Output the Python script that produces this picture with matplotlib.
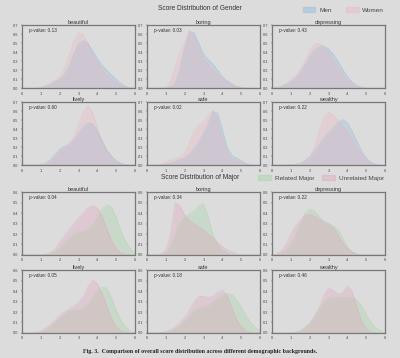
import numpy as np
import matplotlib
matplotlib.use("Agg")
import matplotlib.pyplot as plt
from matplotlib.patches import Patch

plt.rcParams["font.family"] = ["Liberation Sans", "DejaVu Sans"]

# score grid the density curves were read on (0 .. 6, step 0.25)
scores = np.arange(0, 6.01, 0.25)
categories = ["beautiful", "boring", "depressing", "lively", "safe", "wealthy"]

men = {
    "beautiful": [0,0,0,0,0.005,0.02,0.04,0.07,0.10,0.15,0.24,0.38,0.49,0.53,0.50,0.42,0.33,0.26,0.20,0.15,0.10,0.05,0.02,0.005,0],
    "boring": [0,0,0,0,0,0.01,0.05,0.22,0.45,0.63,0.62,0.50,0.38,0.32,0.27,0.20,0.13,0.08,0.05,0.02,0.01,0,0,0,0],
    "depressing": [0,0.005,0.02,0.04,0.07,0.11,0.17,0.26,0.35,0.42,0.46,0.47,0.44,0.38,0.30,0.21,0.13,0.07,0.03,0.01,0,0,0,0,0],
    "lively": [0,0,0,0,0.005,0.02,0.06,0.12,0.18,0.21,0.23,0.28,0.35,0.42,0.47,0.46,0.38,0.27,0.17,0.10,0.05,0.02,0.005,0,0],
    "safe": [0,0,0,0.005,0.01,0.02,0.04,0.06,0.08,0.12,0.18,0.26,0.35,0.46,0.60,0.58,0.40,0.20,0.11,0.08,0.05,0.02,0.005,0,0],
    "wealthy": [0,0,0,0,0.005,0.01,0.02,0.05,0.09,0.15,0.22,0.30,0.36,0.41,0.48,0.51,0.47,0.38,0.27,0.16,0.08,0.03,0.01,0,0],
}
women = {
    "beautiful": [0,0,0,0,0.01,0.03,0.06,0.09,0.13,0.22,0.37,0.53,0.62,0.60,0.50,0.38,0.28,0.21,0.15,0.10,0.06,0.03,0.01,0,0],
    "boring": [0,0,0,0,0.01,0.07,0.25,0.40,0.52,0.65,0.58,0.45,0.33,0.27,0.21,0.15,0.11,0.07,0.04,0.02,0.005,0,0,0,0],
    "depressing": [0,0.005,0.02,0.05,0.09,0.14,0.21,0.31,0.42,0.49,0.50,0.46,0.40,0.32,0.24,0.16,0.09,0.05,0.02,0.01,0,0,0,0,0],
    "lively": [0,0,0,0,0.005,0.02,0.05,0.10,0.16,0.20,0.24,0.32,0.45,0.60,0.67,0.58,0.42,0.26,0.15,0.08,0.04,0.015,0.005,0,0],
    "safe": [0,0,0,0.01,0.03,0.06,0.08,0.09,0.13,0.25,0.38,0.45,0.49,0.55,0.61,0.52,0.30,0.13,0.07,0.05,0.03,0.01,0,0,0],
    "wealthy": [0,0,0,0,0.005,0.01,0.02,0.05,0.10,0.20,0.38,0.53,0.59,0.56,0.50,0.44,0.38,0.30,0.20,0.12,0.06,0.02,0.005,0,0],
}
related = {
    "beautiful": [0,0,0,0,0,0.005,0.01,0.03,0.06,0.11,0.16,0.20,0.22,0.22,0.24,0.29,0.36,0.44,0.48,0.46,0.36,0.23,0.13,0.06,0.02],
    "boring": [0,0,0,0.005,0.02,0.08,0.20,0.31,0.36,0.39,0.42,0.47,0.49,0.36,0.20,0.10,0.05,0.02,0.005,0,0,0,0,0,0],
    "depressing": [0,0.005,0.02,0.05,0.10,0.18,0.30,0.40,0.44,0.42,0.37,0.32,0.30,0.28,0.24,0.16,0.08,0.03,0.01,0,0,0,0,0,0],
    "lively": [0,0,0,0,0.01,0.03,0.06,0.10,0.14,0.18,0.21,0.22,0.22,0.23,0.27,0.34,0.41,0.44,0.43,0.34,0.22,0.12,0.06,0.02,0.005],
    "safe": [0,0,0,0.005,0.01,0.02,0.04,0.07,0.11,0.16,0.21,0.24,0.25,0.26,0.29,0.33,0.36,0.38,0.37,0.32,0.25,0.17,0.10,0.05,0.02],
    "wealthy": [0,0,0,0,0,0.005,0.02,0.05,0.09,0.15,0.22,0.29,0.33,0.34,0.34,0.34,0.34,0.34,0.32,0.26,0.18,0.10,0.05,0.02,0.005],
}
unrelated = {
    "beautiful": [0,0,0,0,0,0.005,0.02,0.06,0.12,0.18,0.24,0.30,0.35,0.40,0.45,0.47,0.45,0.37,0.25,0.14,0.06,0.02,0.005,0,0],
    "boring": [0,0,0,0.01,0.04,0.20,0.50,0.47,0.38,0.33,0.30,0.27,0.24,0.20,0.16,0.12,0.08,0.05,0.03,0.01,0,0,0,0,0],
    "depressing": [0,0.01,0.04,0.10,0.20,0.28,0.33,0.38,0.39,0.37,0.34,0.32,0.30,0.26,0.19,0.12,0.06,0.03,0.01,0,0,0,0,0,0],
    "lively": [0,0,0,0.005,0.02,0.05,0.08,0.12,0.17,0.20,0.23,0.26,0.29,0.35,0.44,0.51,0.47,0.38,0.26,0.14,0.06,0.02,0.005,0,0],
    "safe": [0,0,0,0.005,0.01,0.03,0.06,0.10,0.15,0.22,0.30,0.35,0.35,0.34,0.35,0.39,0.41,0.36,0.25,0.13,0.06,0.02,0.005,0,0],
    "wealthy": [0,0,0,0,0,0.005,0.02,0.05,0.09,0.16,0.24,0.36,0.43,0.41,0.37,0.39,0.45,0.40,0.25,0.12,0.04,0.01,0,0,0],
}
p_gender = [0.13, 0.03, 0.43, 0.60, 0.02, 0.22]
p_major = [0.04, 0.34, 0.22, 0.05, 0.18, 0.46]

bg = "#dcdcdc"
c_men, c_women = "#8ab8da", "#eeb0bd"
c_rel, c_unrel = "#9fd49f", "#e49bbb"

fig = plt.figure(figsize=(4.0, 3.58), dpi=100, facecolor=bg)

col_x = [0.055, 0.3675, 0.68]
col_w = 0.2825
row_y = [0.754, 0.539, 0.288, 0.070]
row_h = 0.175


def draw_panel(ax, cat, a, b, ca, cb, pval, ymax):
    ax.set_facecolor(bg)
    ax.fill_between(scores, a[cat], color=ca, alpha=0.3, lw=0)
    ax.plot(scores, a[cat], color=ca, lw=0.4, alpha=0.5)
    ax.fill_between(scores, b[cat], color=cb, alpha=0.28, lw=0)
    ax.plot(scores, b[cat], color=cb, lw=0.4, alpha=0.5)
    ax.set_xlim(0, 6)
    ax.set_ylim(0, ymax)
    ax.set_xticks(range(7))
    ax.set_yticks(np.arange(0, ymax + 0.01, 0.1))
    ax.yaxis.set_major_formatter(plt.FuncFormatter(lambda v, p: f"{v:.1f}"))
    ax.tick_params(labelsize=2.8, length=1, width=0.3, pad=1.5, colors="#444444")
    for s in ax.spines.values():
        s.set_color("#777777")
        s.set_linewidth(0.9)
    ax.set_title(cat, fontsize=4.0, pad=1.2, color="#333333")
    ax.text(0.06, 0.9, f"p-value: {pval:.2f}", transform=ax.transAxes,
            fontsize=3.4, color="#333333")


for i, cat in enumerate(categories):
    r, c = divmod(i, 3)
    ax = fig.add_axes([col_x[c], row_y[r], col_w, row_h])
    draw_panel(ax, cat, men, women, c_men, c_women, p_gender[i], 0.7)
    ax = fig.add_axes([col_x[c], row_y[r + 2], col_w, row_h])
    draw_panel(ax, cat, related, unrelated, c_rel, c_unrel, p_major[i], 0.6)

fig.text(0.5, 0.975, "Score Distribution of Gender", ha="center", va="center",
         fontsize=4.8, color="#333333")
fig.text(0.5, 0.505, "Score Distribution of Major", ha="center", va="center",
         fontsize=4.8, color="#333333")

leg_kw = dict(loc="center right", ncol=2, frameon=False, fontsize=4.6,
              handlelength=2.0, handleheight=0.9, handletextpad=0.6,
              labelcolor="#444444")
h1 = [Patch(facecolor=c_men, edgecolor=c_men, alpha=0.4, label="Men"),
      Patch(facecolor=c_women, edgecolor=c_women, alpha=0.35, label="Women")]
fig.legend(handles=h1, bbox_to_anchor=(0.975, 0.972), columnspacing=2.2, **leg_kw)
h2 = [Patch(facecolor=c_rel, edgecolor=c_rel, alpha=0.4, label="Related Major"),
      Patch(facecolor=c_unrel, edgecolor=c_unrel, alpha=0.35, label="Unrelated Major")]
fig.legend(handles=h2, bbox_to_anchor=(0.975, 0.503), columnspacing=1.3, **leg_kw)

fig.text(0.5, 0.017, "Fig. 3.  Comparison of overall score distribution across different demographic backgrounds.",
         ha="center", va="center", fontsize=4.3, family="Liberation Serif",
         fontweight="bold", color="#222222")

fig.savefig("out.png", dpi=100, facecolor=bg)
